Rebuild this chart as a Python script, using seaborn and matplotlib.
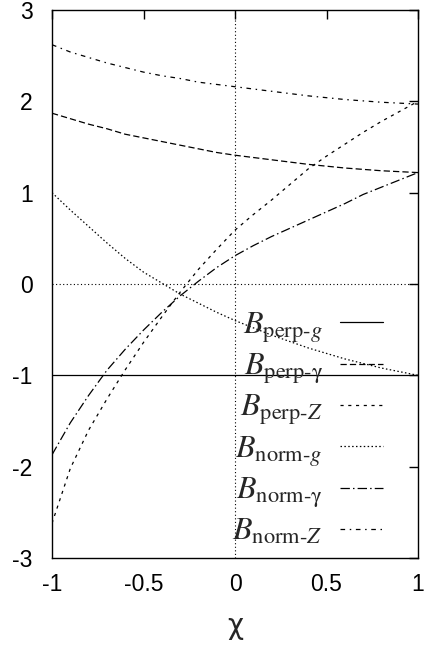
import matplotlib
matplotlib.use("Agg")
import matplotlib.pyplot as plt
import seaborn as sns
import numpy as np
import pandas as pd

# ---- data ----
chi = [-1.0, -0.9, -0.8, -0.7, -0.6, -0.5, -0.4, -0.3, -0.2, -0.1, 0.0,
       0.1, 0.2, 0.3, 0.4, 0.5, 0.6, 0.7, 0.8, 0.9, 1.0]
b_perp_g = [-1.0] * 21
b_perp_gamma = [1.87, 1.81, 1.75, 1.70, 1.64, 1.60, 1.56, 1.52, 1.48, 1.44, 1.41,
                1.385, 1.36, 1.335, 1.31, 1.29, 1.27, 1.255, 1.24, 1.23, 1.22]
b_perp_z = [-2.62, -2.02, -1.60, -1.26, -0.94, -0.64, -0.36, -0.09, 0.16, 0.38, 0.59,
            0.76, 0.92, 1.09, 1.26, 1.40, 1.53, 1.66, 1.78, 1.89, 2.00]
b_norm_g = [1.00, 0.81, 0.63, 0.45, 0.28, 0.13, 0.01, -0.11, -0.21, -0.31, -0.40,
            -0.48, -0.56, -0.63, -0.70, -0.76, -0.82, -0.87, -0.92, -0.96, -1.00]
b_norm_gamma = [-1.87, -1.52, -1.22, -0.945, -0.715, -0.505, -0.31, -0.13, 0.03, 0.18, 0.31,
                0.42, 0.52, 0.61, 0.70, 0.79, 0.88, 0.98, 1.06, 1.14, 1.22]
b_norm_z = [2.62, 2.54, 2.48, 2.42, 2.37, 2.32, 2.28, 2.25, 2.21, 2.185, 2.16,
            2.135, 2.11, 2.085, 2.06, 2.04, 2.02, 2.005, 1.99, 1.98, 1.97]

labels = [r'$B_{\mathrm{perp}\text{-}g}$',
          r'$B_{\mathrm{perp}\text{-}\mathrm{\gamma}}$',
          r'$B_{\mathrm{perp}\text{-}Z}$',
          r'$B_{\mathrm{norm}\text{-}g}$',
          r'$B_{\mathrm{norm}\text{-}\mathrm{\gamma}}$',
          r'$B_{\mathrm{norm}\text{-}Z}$']
series = [b_perp_g, b_perp_gamma, b_perp_z, b_norm_g, b_norm_gamma, b_norm_z]

x_ticks = [-1, -0.5, 0, 0.5, 1]
x_ticklabels = ['-1', '-0.5', '0', '0.5', '1']
y_ticks = [-3, -2, -1, 0, 1, 2, 3]
y_ticklabels = ['-3', '-2', '-1', '0', '1', '2', '3']

# ---- styling ----
sns.set_theme(style="white")
plt.rcParams['font.family'] = ['Liberation Sans', 'DejaVu Sans']
plt.rcParams['mathtext.fontset'] = 'stix'
plt.rcParams['axes.unicode_minus'] = False

lw = 0.9
styles = ['-',
          (0, (5.0, 2.5)),
          (0, (2.5, 3.7)),
          (0, (1.2, 1.9)),
          (0, (7.5, 2.5, 1.2, 2.5)),
          (0, (3.7, 3.7, 1.2, 3.7))]

fig = plt.figure(figsize=(4.24, 6.58), dpi=100)
ax = fig.add_axes([52/424, 1 - 558/658, 366/424, 548/658])

# zero axes (dotted)
ax.axhline(0, color='black', lw=0.8, ls=(0, (1, 2.2)), zorder=1)
ax.axvline(0, color='black', lw=0.8, ls=(0, (1, 2.2)), zorder=1)

for lab, ys, st in zip(labels, series, styles):
    df = pd.DataFrame({'chi': chi, 'B': ys})
    sns.lineplot(data=df, x='chi', y='B', ax=ax, color='black', lw=lw,
                 linestyle=st, label=lab, zorder=2)

ax.set_xlim(-1, 1)
ax.set_ylim(-3, 3)
ax.set_xticks(x_ticks)
ax.set_xticklabels(x_ticklabels)
ax.set_yticks(y_ticks)
ax.set_yticklabels(y_ticklabels)
ax.tick_params(direction='in', length=6.3, width=1.0, top=True, right=True,
               labelsize=16.5, colors='black')
ax.tick_params(axis='x', pad=11)
ax.tick_params(axis='y', pad=14)
for s in ax.spines.values():
    s.set_color('black')
    s.set_linewidth(1.0)
    s.set_visible(True)

ax.set_xlabel('χ', fontsize=20, labelpad=11, family=['DejaVu Sans'])
ax.set_ylabel('')

leg = ax.legend(loc='lower right', bbox_to_anchor=(0.905, 0.02), frameon=False,
                markerfirst=False, fontsize=23, handlelength=1.35,
                handletextpad=0.55, labelspacing=0.22, borderpad=0, borderaxespad=0)

fig.savefig('out.png', dpi=100)
